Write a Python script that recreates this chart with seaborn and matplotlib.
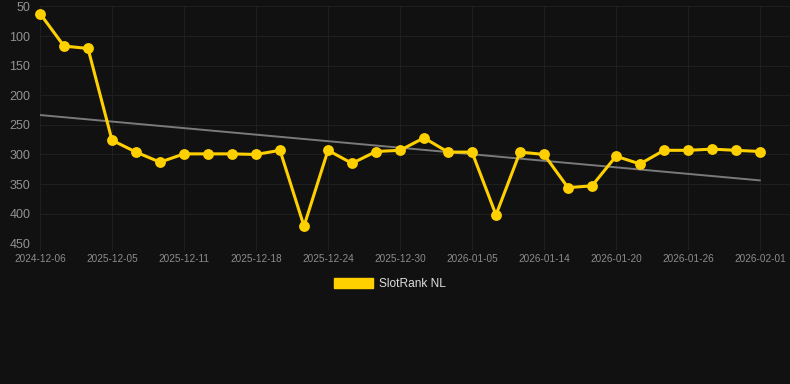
import numpy as np
import pandas as pd
import matplotlib
matplotlib.use("Agg")
import matplotlib.pyplot as plt
from matplotlib.patches import Patch
import seaborn as sns

# rank values (lower is better, axis inverted)
ranks = [62, 117, 121, 276, 296, 313, 299, 299, 299, 300, 293, 421, 293, 315, 295,
         293, 272, 296, 296, 402, 296, 300, 356, 353, 303, 316, 293, 293, 291, 293, 295]
tick_labels = ["2024-12-06", "2025-12-05", "2025-12-11", "2025-12-18", "2025-12-24",
               "2025-12-30", "2026-01-05", "2026-01-14", "2026-01-20", "2026-01-26",
               "2026-02-01"]
y_ticks = [50, 100, 150, 200, 250, 300, 350, 400, 450]
series_name = "SlotRank NL"

df = pd.DataFrame({"idx": np.arange(len(ranks)), "rank": ranks})
slope, icept = np.polyfit(df["idx"], df["rank"], 1)
df["trend"] = icept + slope * df["idx"]

sns.set_theme(style="dark")
plt.rcParams["font.family"] = ["Liberation Sans", "DejaVu Sans"]

bg = "#111111"
grid_c = "#1f1f1f"
fig = plt.figure(figsize=(7.9, 3.84), dpi=100, facecolor=bg)
ax = fig.add_axes([40 / 790, 1 - 243.3 / 384, 750 / 790, (243.3 - 6.4) / 384])
ax.set_facecolor(bg)

sns.lineplot(data=df, x="idx", y="trend", ax=ax, color="#7a7a7a", linewidth=1.4)
sns.lineplot(data=df, x="idx", y="rank", ax=ax, color="#ffd000", linewidth=2.2,
             marker="o", markersize=7.8, markeredgewidth=0, markeredgecolor="#ffd000",
             clip_on=False)

ax.set_xlim(0, 750 / 24)
ax.set_ylim(450, 50)
ax.set_yticks(y_ticks)
ax.set_xticks(np.arange(0, len(ranks), 3))
ax.set_xticklabels(tick_labels)
ax.set_xlabel("")
ax.set_ylabel("")
ax.grid(True, color=grid_c, linewidth=0.8)
for s in ax.spines.values():
    s.set_visible(False)
ax.tick_params(axis="y", colors="#929292", labelsize=9, length=0, pad=7)
ax.tick_params(axis="x", colors=grid_c, labelcolor="#8c8c8c", labelsize=7.2,
               length=5, width=0.8, pad=3, bottom=True)
ax.axhline(450, color=grid_c, linewidth=0.8)

leg = fig.legend(handles=[Patch(facecolor="#ffd000", edgecolor="#ffd000")],
                 labels=[series_name], loc="center", bbox_to_anchor=(390 / 790, 1 - 284 / 384),
                 frameon=False, fontsize=8.6, handlelength=3.3, handleheight=1.0,
                 handletextpad=0.5, labelcolor="#dddddd")

fig.savefig("out.png", dpi=100, facecolor=bg)
